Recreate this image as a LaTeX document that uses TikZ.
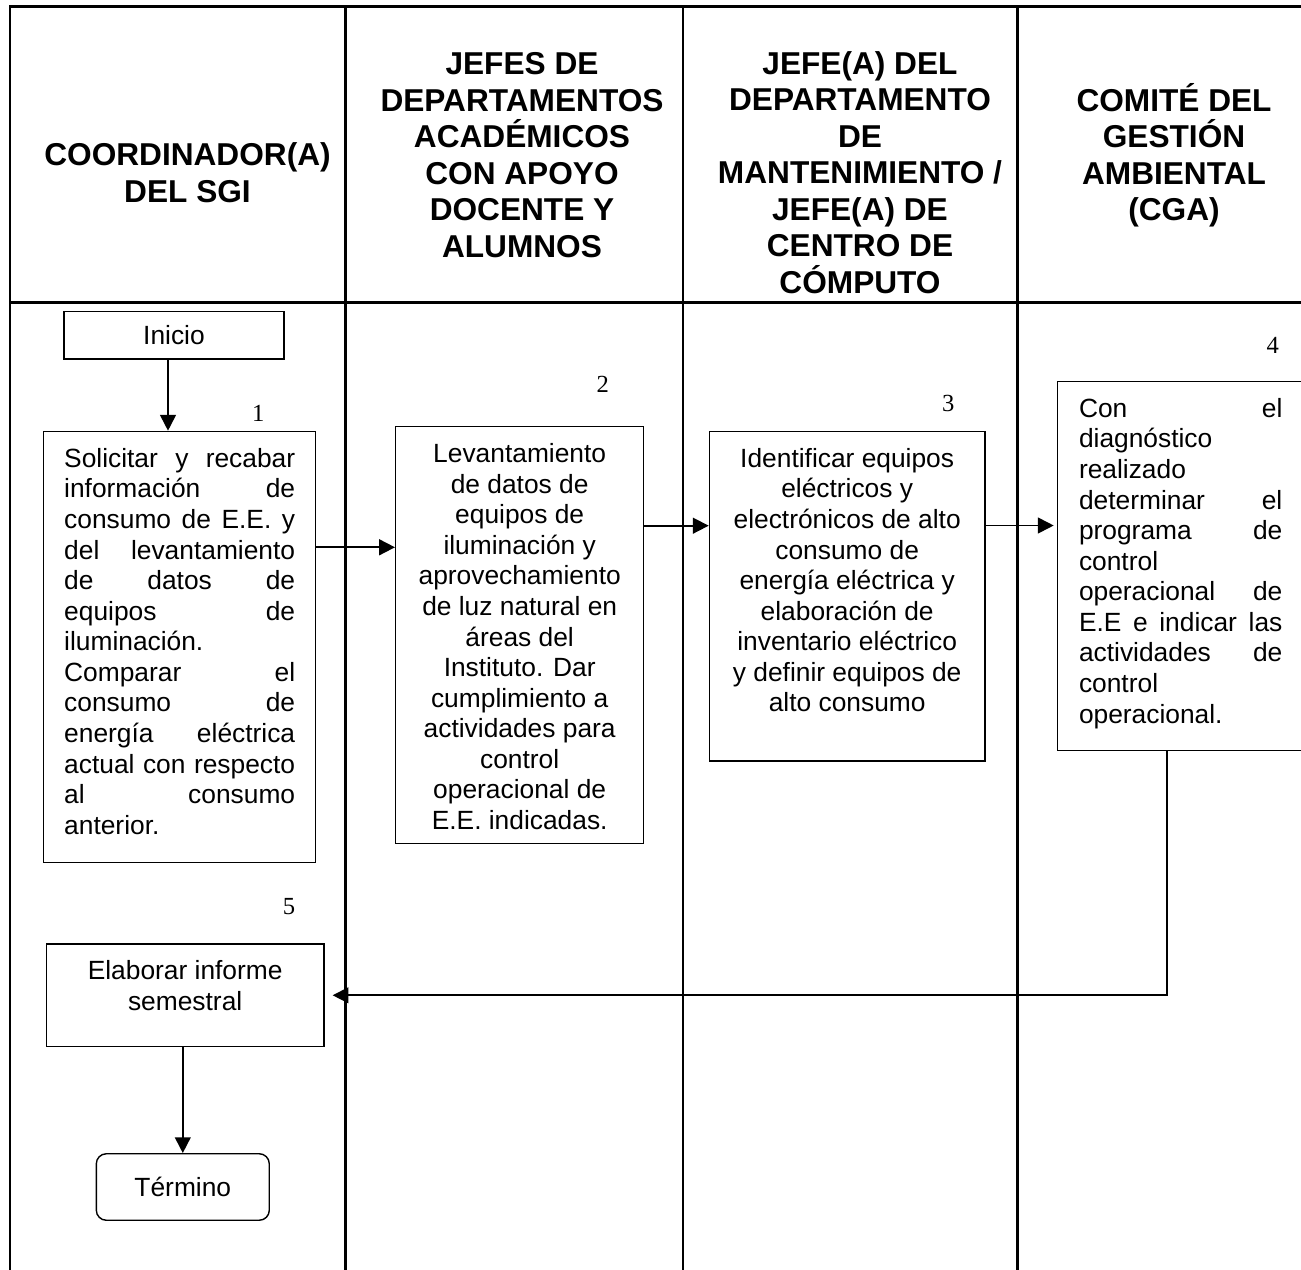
\documentclass[tikz,border=0pt]{standalone}
\usepackage{fontspec}
\setmainfont{Liberation Sans}
\newfontfamily\numfont{Liberation Serif}
\usetikzlibrary{arrows.meta}
\tikzstyle{lane} = [line width=1.4pt]
\tikzstyle{header} = [align=center, anchor=base, font=\fontsize{18}{20.8}\selectfont\bfseries]
\tikzstyle{startstop} = [rectangle, draw=black, line width=0.8pt, minimum width=4.4cm, minimum height=0.95cm, font=\fontsize{15}{17.4}\selectfont]
\tikzstyle{terminal} = [startstop, rounded corners=0.2cm, minimum width=3.46cm, minimum height=1.33cm]
\tikzstyle{process} = [rectangle, draw=black, line width=0.8pt, anchor=north west, inner ysep=8.3pt, font=\fontsize{15}{17.4}\selectfont]
\tikzstyle{paso} = [font=\numfont\fontsize{14}{16}\selectfont]
\tikzstyle{arrow} = [line width=1pt, ->, >={Triangle[length=9pt, width=9pt]}]
% width, height, alignment, text
\newcommand{\caja}[4]{\begin{minipage}[t][#2][t]{#1}#3\strut #4\end{minipage}}
\newcommand{\jl}[1]{\makebox[\linewidth][s]{#1}}

\begin{document}
\begin{tikzpicture}[x=0.02cm, y=-0.02cm]
\useasboundingbox (0,0) rectangle (1301,1270);

% lanes
\draw [lane] (1320,6.7) -- (10,6.7) -- (10,1280);
\draw [lane] (10,302.7) -- (1320,302.7);
\foreach \x in {345.7,683,1017.5}
  \draw [lane] (\x,6.7) -- (\x,1280);

\node (h1) [header] at (187.5,202.3) {COORDINADOR(A)\\DEL SGI};
\node (h2) [header] at (522,257.3) {JEFES DE\\DEPARTAMENTOS\\ACADÉMICOS\\CON APOYO\\DOCENTE Y\\ALUMNOS};
\node (h3) [header] at (860,293.3) {JEFE(A) DEL\\DEPARTAMENTO\\DE\\MANTENIMIENTO /\\JEFE(A) DE\\CENTRO DE\\CÓMPUTO};
\node (h4) [header] at (1174,221) {COMITÉ DEL\\GESTIÓN\\AMBIENTAL\\(CGA)};

% steps
\node (inicio) [startstop] at (174,335.3) {Inicio};
\node (b1) [process, inner xsep=0.41cm] at (43,430.7) {\caja{4.62cm}{8.046cm}{\relax}{\jl{Solicitar y recabar}\\
\jl{información de}\\
\jl{consumo de E.E. y}\\
\jl{del levantamiento}\\
\jl{de datos de}\\
\jl{equipos de}\\
iluminación.\\
\jl{Comparar el}\\
\jl{consumo de}\\
\jl{energía eléctrica}\\
\jl{actual con respecto}\\
\jl{al consumo}\\
anterior.}};
\node (b2) [process, inner xsep=0.28cm] at (395,426) {\caja{4.4cm}{7.754cm}{\centering}{Levantamiento\\de datos de\\equipos de\\iluminación y\\aprovechamiento\\de luz natural en\\áreas del\\Instituto. Dar\\cumplimiento a\\actividades para\\control\\operacional de\\E.E. indicadas.}};
\node (b3) [process, inner xsep=0.256cm] at (708.7,430.7) {\caja{5cm}{6.01cm}{\centering}{Identificar equipos\\eléctricos y\\electrónicos de alto\\consumo de\\energía eléctrica y\\elaboración de\\inventario eléctrico\\y definir equipos de\\alto consumo}};
\node (b4) [process, inner xsep=0.432cm] at (1056.7,380.7) {\caja{4.068cm}{6.8cm}{\relax}{\jl{Con el}\\
diagnóstico\\
realizado\\
\jl{determinar el}\\
\jl{programa de}\\
control\\
\jl{operacional de}\\
\jl{E.E e indicar las}\\
\jl{actividades de}\\
control\\
operacional.}};
\node (b5) [process, inner xsep=0.276cm] at (45.7,943.3) {\caja{5cm}{1.468cm}{\centering}{Elaborar informe\\semestral}};
\node (termino) [terminal] at (182.8,1187) {Término};

\node (n1) [paso] at (258.3,413.3) {1};
\node (n2) [paso] at (602.7,384) {2};
\node (n3) [paso] at (948.3,403.3) {3};
\node (n4) [paso] at (1272.7,345.7) {4};
\node (n5) [paso] at (289,906.7) {5};

\draw [arrow] ([xshift=-0.12cm]inicio.south) -- ([xshift=-0.12cm]inicio.south |- b1.north);
\draw [arrow] (b1.east |- 0,547.3) -- (b2.west |- 0,547.3);
\draw [arrow] (b2.east |- 0,525.7) -- (b3.west |- 0,525.7);
\draw [arrow, shorten >=0.06cm] (b3.east |- 0,525.5) -- (b4.west |- 0,525.5);
\draw [arrow, shorten >=0.16cm] (b4.south -| 1166.7,0) |- (b5.east);
\draw [arrow] (termino |- b5.south) -- (termino);

\end{tikzpicture}
\end{document}
